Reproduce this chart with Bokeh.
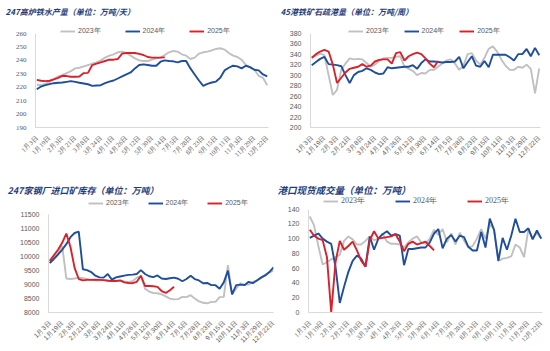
from bokeh.plotting import figure
from bokeh.layouts import column, row
from bokeh.models import FixedTicker, Range1d
from bokeh.embed import file_html
from bokeh.resources import INLINE
import math

date_labels = ["1月3日", "1月19日", "2月3日", "2月21日", "3月8日", "3月24日", "4月11日",
               "4月26日", "5月12日", "5月30日", "6月14日", "7月5日", "7月28日", "8月23日",
               "9月15日", "10月11日", "11月3日", "11月29日", "12月22日"]
label_step = 3
series_names = ["2023年", "2024年", "2025年"]

# Panel 1: 247 hot metal output
hm_2023 = [222, 221.5, 222.5, 224, 226, 228, 229, 230.5, 232, 234, 234.5, 235.5, 236.5, 237.5, 238.5,
           240, 242, 243.5, 244.5, 246, 246.5, 245.5, 243.5, 241.5, 240, 239.5, 239.5, 240.5, 241.5,
           242, 244, 246, 247, 246.5, 244.5, 243.5, 241, 242, 245, 246, 246.5, 247.5, 248.5, 249,
           248, 245.5, 243.5, 242.5, 240.5, 236.5, 234.5, 233, 228.5, 227, 221.5]
hm_2024 = [218.5, 220.5, 221.5, 222.3, 223, 223.3, 223.5, 224, 224.5, 224, 223.3, 222.8, 222.2, 221,
           221.3, 221.5, 223, 224.2, 225, 226.5, 228, 229.5, 231, 234, 236.5, 237, 236.5, 236, 236,
           239, 240, 239.5, 239.3, 238.5, 239.5, 239.5, 234, 229.5, 225, 221, 222.5, 223.5, 224.2,
           227, 232.5, 234.5, 236, 235.5, 234, 236, 235, 233, 232.5, 229.5, 228]
hm_2025 = [225.5, 224.8, 224.5, 224.8, 225.8, 227, 228.5, 228.3, 227.8, 227.8, 228, 230.5, 230.7,
           236.5, 237.5, 238.5, 239.5, 240.5, 240.5, 241, 245, 245.5, 245.5, 245.5, 244.8, 244,
           242.5, 242, 242, 242, 242.2]
hm_yticks = [190, 200, 210, 220, 230, 240, 250, 260]

# Panel 2: 45-port ore evacuation
ev_2023 = [333, 337, 341, 338, 300, 262, 272, 310, 322, 332, 330, 331, 330, 323, 316, 320, 327, 332,
           333, 333, 335, 336, 316, 312, 308, 300, 304, 303, 310, 310, 316, 322, 328, 330, 322, 310,
           318, 340, 342, 328, 320, 333, 350, 355, 345, 330, 318, 310, 310, 316, 314, 320, 312, 265, 313]
ev_2024 = [319, 325, 331, 335, 321, 320, 319, 317, 300, 285, 300, 306, 308, 313, 310, 305, 302, 303,
           315, 313, 314, 315, 316, 316, 319, 312, 323, 330, 326, 326, 325, 324, 325, 325, 326, 335,
           313, 325, 336, 318, 316, 327, 315, 339, 339, 339, 339, 334, 328, 340, 340, 350, 336, 352, 338]
ev_2025 = [333, 340, 345, 348, 345, 320, 285, 295, 305, 312, 314, 316, 321, 316, 318, 326, 329, 330,
           330, 322, 342, 344, 328, 336, 340, 343, 340, 332, 322, 315, 327]
ev_yticks = [200, 220, 240, 260, 280, 300, 320, 340, 360, 380]

# Panel 3: 247 mills imported ore inventory
inv_2023 = [9800, 9950, 10100, 10400, 9220, 9200, 9220, 9250, 9230, 9200, 9170, 9150, 9150, 9160,
            9160, 9130, 9140, 9130, 9110, 9100, 9120, 9250, 9300, 8850, 8750, 8700, 8690, 8650,
            8580, 8500, 8470, 8480, 8560, 8550, 8620, 8500, 8400, 8350, 8330, 8380, 8380, 8550,
            8560, 9700, 8650, 8850, 9050, 9000, 9000, 9100, 9150, 9250, 9350, 9430, 9500]
inv_2024 = [9770, 9920, 10080, 10250, 10450, 10700, 10850, 10900, 9550, 9520, 9450, 9320, 9260,
            9250, 9380, 9180, 9260, 9290, 9320, 9350, 9360, 9380, 9520, 9380, 9300, 9270, 9330,
            9220, 9200, 9230, 9250, 9210, 9120, 9200, 9320, 9200, 9150, 9050, 9060, 8980, 8980,
            8850, 9080, 9500, 8650, 8980, 9000, 8980, 9100, 9050, 9150, 9250, 9330, 9450, 9620]
inv_2025 = [9850, 10050, 10250, 10500, 10830, 10350, 9600, 9200, 9150, 9170, 9170, 9180, 9170,
            9160, 9140, 9130, 9130, 9150, 9080, 9060, 9050, 9100, 9320, 8950, 8950, 8940, 8920,
            8770, 8700, 8800, 8920]
inv_yticks = [8000, 8500, 9000, 9500, 10000, 10500, 11000, 11500]

# Panel 4: port spot trades
tr_2023 = [130, 118, 90, 65, 68, 72, 75, 78, 97, 103, 99, 92, 92, 97, 103, 98, 100, 107, 96, 93,
           93, 92, 88, 95, 100, 103, 95, 93, 100, 112, 105, 113, 95, 107, 92, 108, 97, 88, 90, 100,
           113, 100, 120, 112, 70, 73, 74, 76, 92, 88, 75, 113, 100, 108, 100]
tr_2024 = [101, 104, 107, 100, 96, 93, 62, 13, 35, 55, 70, 77, 73, 62, 103, 85, 100, 106, 110, 104,
           106, 104, 64, 86, 86, 87, 88, 88, 95, 107, 113, 87, 100, 105, 96, 104, 102, 89, 84, 84,
           109, 88, 127, 112, 70, 101, 85, 104, 127, 109, 109, 114, 99, 111, 100]
tr_2025 = [112, 104, 100, 98, 75, 0, 68, 97, 85, 90, 96, 84, 70, 62, 98, 110, 100, 101, 102, 103,
           106, 96, 83, 93, 96, 92, 94, 96, 90, 84]
tr_yticks = [0, 20, 40, 60, 80, 100, 120, 140]

COLORS = ["#c0c0c0", "#1f4e9c", "#d9212b"]
TITLE_COLOR = "#1f3d7a"
TICK_COLOR = "#595959"
AXIS_COLOR = "#d9d9d9"
SERIF = "Liberation Serif"
SANS = "Liberation Sans"


def make_panel(w, h, borders, y1px, yticks, xmax, data, title, tsize, toffset,
               lpos, lspacing, lfont, lsize, xfont, yfont):
    # borders: left, right, frame top, frame bottom (pixels in the figure)
    bl, br, top, fb = borders
    y0, y1 = yticks[0], yticks[-1]
    y_end = y0 + (y1 - y0) * (fb - top) / (fb - y1px)
    p = figure(width=w, height=h, x_range=Range1d(-0.3, xmax), y_range=Range1d(y0, y_end),
               output_backend="svg", toolbar_location=None,
               min_border_left=bl, min_border_right=br, min_border_top=top,
               min_border_bottom=h - fb)
    p.outline_line_color = None
    p.grid.grid_line_color = None
    p.background_fill_color = "white"
    p.border_fill_color = "white"
    for name, vals, col in zip(series_names, data, COLORS):
        p.line(list(range(len(vals))), vals, line_color=col, line_width=1.9, legend_label=name)
    n = len(date_labels)
    ticks = [i * label_step for i in range(n)]
    p.xaxis.ticker = FixedTicker(ticks=ticks)
    p.xaxis.major_label_overrides = {t: lab for t, lab in zip(ticks, date_labels)}
    p.xaxis.major_label_orientation = math.pi / 4
    p.yaxis.ticker = FixedTicker(ticks=yticks)
    p.yaxis.bounds = (y0, y1)
    for ax, f, s in ((p.xaxis, xfont, "6.5px"), (p.yaxis, yfont, "7px")):
        ax.axis_line_color = AXIS_COLOR
        ax.major_tick_line_color = None
        ax.minor_tick_line_color = None
        ax.major_label_text_font = f
        ax.major_label_text_font_size = s
        ax.major_label_text_color = TICK_COLOR
        ax.major_label_standoff = 3
    leg = p.legend[0]
    leg.location = lpos
    leg.orientation = "horizontal"
    leg.glyph_width = 15
    leg.glyph_height = 10
    leg.label_height = 10
    leg.label_standoff = 3
    leg.spacing = lspacing
    leg.padding = 0
    leg.margin = 0
    leg.border_line_color = None
    leg.background_fill_alpha = 0
    leg.label_text_font = lfont
    leg.label_text_font_size = lsize
    leg.label_text_color = TICK_COLOR
    p.title.text = title
    p.title.align = "left"
    p.title.offset = toffset
    p.title.standoff = 0
    p.title.vertical_align = "middle"
    p.title.text_font = "Noto Sans CJK SC"
    p.title.text_font_style = "bold italic"
    p.title.text_font_size = tsize
    p.title.text_color = TITLE_COLOR
    return p


p1 = make_panel(275, 175, (35, 7, 17, 127), 33, hm_yticks, 54.3,
                [hm_2023, hm_2024, hm_2025], "247高炉铁水产量（单位：万吨/天）", "8px", -30,
                (25, 91), 24, SANS, "7px", SERIF, SERIF)
p2 = make_panel(275, 175, (35, 10, 17, 129), 33, ev_yticks, 54.3,
                [ev_2023, ev_2024, ev_2025], "45港铁矿石疏港量（单位：万吨/周）", "8px", -30,
                (38, 91), 15, SANS, "7px", SANS, SANS)
p3 = make_panel(275, 176, (48, 2, 18, 137), 36, inv_yticks, 54.0,
                [inv_2023, inv_2024, inv_2025], "247家钢厂进口矿库存（单位：万吨）", "9px", -41,
                (40, 104), 19, SANS, "7px", SANS, SANS)
p4 = make_panel(275, 176, (33, 8, 22, 141), 34, tr_yticks, 54.3,
                [tr_2023, tr_2024, tr_2025], "港口现货成交量（单位：万吨）", "9.5px", -31,
                (15, 106), 30, SERIF, "8px", SERIF, SANS)

layout = column(row(p1, p2), row(p3, p4))
open("out.html", "w").write(file_html(layout, INLINE))
